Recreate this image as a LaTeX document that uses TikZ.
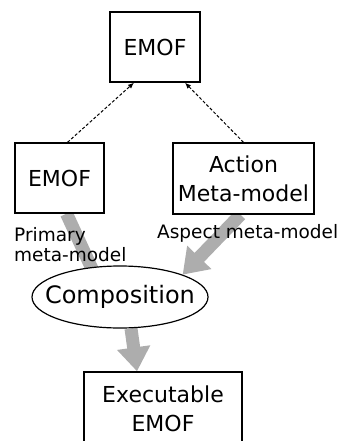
\documentclass[tikz,border=0pt]{standalone}
\usepackage{fontspec}
\setmainfont{DejaVu Sans}
\usetikzlibrary{arrows.meta,shapes.geometric,backgrounds}
\begin{document}
\begin{tikzpicture}[x=1pt,y=-1pt,
  box/.style={draw,line width=1.3pt,fill=white,inner sep=0pt,align=center,
              font=\fontsize{22}{29}\selectfont},
  lbl/.style={inner sep=0pt,align=left,font=\fontsize{18.5}{20}\selectfont},
  dep/.style={line width=1pt,dash pattern=on 3pt off 2pt,
              -{Latex[length=6pt,width=5pt]}},
  fat/.style={draw=black!32,line width=13pt,
              -{Triangle[width=32pt,length=24pt,fill=black!32]}}]
\useasboundingbox (0,0) rectangle (340,441);

% meta-models
\node[box,minimum width=90pt,minimum height=70pt] (top) at (155,47) {EMOF};
\node[box,minimum width=89pt,minimum height=70pt] (prim) at (59.5,178) {EMOF};
\node[box,minimum width=141pt,minimum height=71pt] (act) at (243.5,178.5) {Action\\Meta-model};

% composition step and its result
\node[draw,ellipse,line width=1.2pt,fill=white,inner xsep=-14pt,inner ysep=0pt,
      minimum width=176pt,minimum height=62pt,
      font=\fontsize{24}{27}\selectfont] (comp) at (120,297) {Composition};
\node[box,minimum width=158pt,minimum height=74pt] (exec) at (163,409) {Executable\\EMOF};

% role labels
\node[lbl,anchor=west] (plbl) at (14,245) {Primary\\meta-model};
\node[lbl,anchor=west] (albl) at (157,233) {Aspect meta-model};

% conformance links
\draw[dep] ([xshift=8pt]prim.north) -- ([xshift=-21pt]top.south);
\draw[dep] (act.north) -- ([xshift=30pt]top.south);

% composition flow
\begin{pgfonlayer}{background}
  \coordinate (ptail) at ([xshift=7pt]prim.south);
  \coordinate (pend) at ([xshift=-15pt]comp.center);
  \draw[fat] (ptail) -- (pend);
  \draw[fat] ([xshift=-3pt]act.south) -- (comp.north east);
  \draw[fat] ([xshift=11pt]comp.south) -- ([xshift=-26pt]exec.north);
\end{pgfonlayer}
\end{tikzpicture}
\end{document}
